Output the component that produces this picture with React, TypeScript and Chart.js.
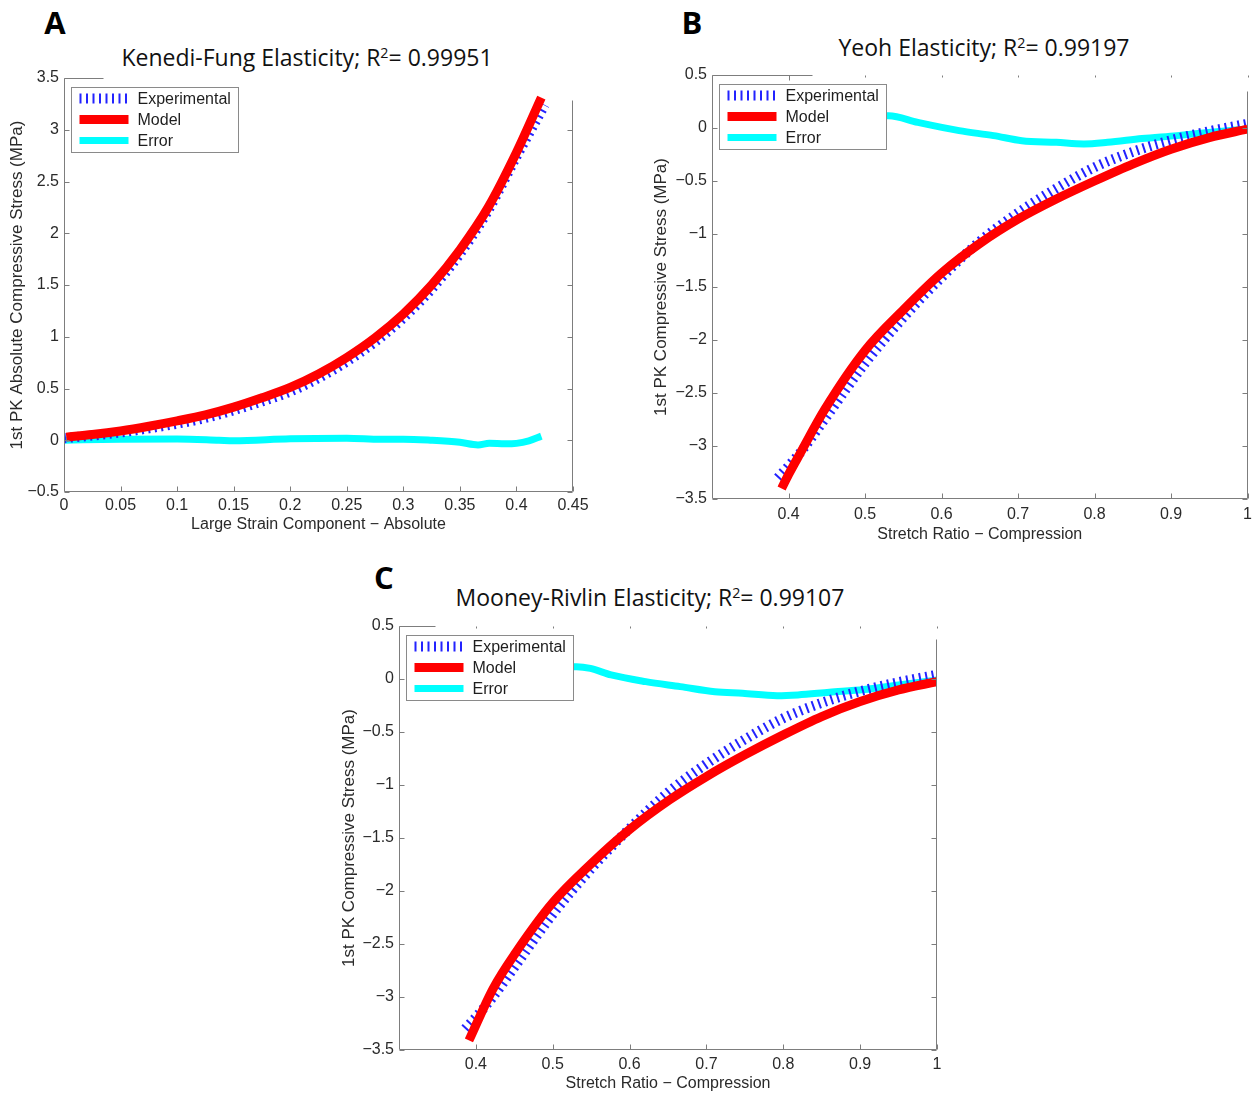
import React, { useEffect, useRef } from 'react';
import { Chart, registerables } from 'chart.js';

Chart.register(...registerables);

// ---------- tick labels ----------
const A_X_TICKS = [0, 0.05, 0.1, 0.15, 0.2, 0.25, 0.3, 0.35, 0.4, 0.45];
const A_Y_TICKS = [-0.5, 0, 0.5, 1, 1.5, 2, 2.5, 3, 3.5];
const BC_X_TICKS = [0.4, 0.5, 0.6, 0.7, 0.8, 0.9, 1];
const BC_Y_TICKS = [-3.5, -3, -2.5, -2, -1.5, -1, -0.5, 0, 0.5];
const SERIES_NAMES = ['Experimental', 'Model', 'Error'];

// ---------- Panel A: Kenedi-Fung ----------
const A_EXP_X = [0.0, 0.025, 0.05, 0.075, 0.1, 0.125, 0.15, 0.175, 0.2, 0.225, 0.25, 0.275, 0.3, 0.325, 0.35, 0.375, 0.4, 0.425];
const A_EXP_Y = [0.02, 0.045, 0.075, 0.115, 0.16, 0.215, 0.29, 0.375, 0.47, 0.6, 0.76, 0.95, 1.18, 1.46, 1.8, 2.22, 2.74, 3.24];
const A_MODEL_X = [0.002, 0.025, 0.05, 0.075, 0.1, 0.125, 0.15, 0.175, 0.2, 0.225, 0.25, 0.275, 0.3, 0.325, 0.35, 0.375, 0.4, 0.422];
const A_MODEL_Y = [0.03, 0.055, 0.09, 0.135, 0.187, 0.245, 0.32, 0.41, 0.51, 0.64, 0.8, 0.99, 1.22, 1.5, 1.84, 2.25, 2.78, 3.31];
const A_ERR_X = [0.0, 0.05, 0.1, 0.137, 0.15, 0.2, 0.25, 0.28, 0.3, 0.324, 0.35, 0.366, 0.376, 0.39, 0.4, 0.411, 0.422];
const A_ERR_Y = [0.0, 0.01, 0.012, 0.0, -0.005, 0.015, 0.02, 0.01, 0.01, 0.0, -0.02, -0.045, -0.03, -0.035, -0.03, -0.005, 0.04];

// ---------- Experimental compression data (B and C) ----------
const EXP_X = [0.386, 0.4, 0.42, 0.45, 0.5, 0.55, 0.6, 0.65, 0.7, 0.75, 0.8, 0.85, 0.9, 0.95, 1.0];
const EXP_Y = [-3.3, -3.19, -3.02, -2.72, -2.22, -1.79, -1.41, -1.07, -0.8, -0.57, -0.37, -0.225, -0.115, -0.03, 0.04];

// ---------- Panel B: Yeoh ----------
const B_MODEL_X = [0.391, 0.4, 0.416, 0.447, 0.5, 0.551, 0.6, 0.65, 0.7, 0.75, 0.8, 0.85, 0.9, 0.95, 1.0];
const B_MODEL_Y = [-3.4, -3.27, -3.06, -2.66, -2.1, -1.71, -1.37, -1.09, -0.86, -0.67, -0.5, -0.34, -0.2, -0.09, -0.01];
const B_ERR_X = [0.525, 0.531, 0.569, 0.623, 0.668, 0.705, 0.75, 0.786, 0.817, 0.862, 0.908, 0.953, 1.0];
const B_ERR_Y = [0.116, 0.116, 0.053, -0.025, -0.072, -0.12, -0.135, -0.15, -0.135, -0.1, -0.072, -0.04, -0.01];

// ---------- Panel C: Mooney-Rivlin ----------
const C_MODEL_X = [0.391, 0.4225, 0.452, 0.5, 0.549, 0.6, 0.652, 0.7, 0.75, 0.8, 0.85, 0.9, 0.95, 1.0];
const C_MODEL_Y = [-3.41, -2.92, -2.58, -2.11, -1.75, -1.42, -1.14, -0.92, -0.715, -0.527, -0.354, -0.213, -0.103, -0.025];
const C_ERR_X = [0.525, 0.531, 0.549, 0.576, 0.621, 0.666, 0.711, 0.747, 0.792, 0.819, 0.86, 0.905, 0.95, 1.0];
const C_ERR_Y = [0.116, 0.116, 0.1, 0.038, -0.025, -0.072, -0.12, -0.135, -0.157, -0.15, -0.125, -0.1, -0.056, -0.01];

const AXIS_FONT = "'Liberation Sans', Arial, Helvetica, sans-serif";
const FRAME_COLOR = '#7d7d7d';
const TEXT_COLOR = '#2a2a2a';

const pts = (xs: number[], ys: number[]) => xs.map((x, i) => ({ x, y: ys[i] }));
const fmt = (v: number) => String(Math.round(v * 100) / 100).replace('-', '\u2212');

const framePlugin = {
  id: 'matlabFrame',
  afterDraw(chart: any) {
    const o = chart.options.plugins.matlabFrame;
    const { ctx, chartArea } = chart;
    const { left, right, top, bottom } = chartArea;
    const xs = chart.scales.x;
    const ys = chart.scales.y;
    const L = Math.round(left) + 0.5;
    const R = Math.round(right) - 0.5;
    const T = Math.round(top) + 0.5;
    const B = Math.round(bottom) - 0.5;
    ctx.save();
    ctx.strokeStyle = FRAME_COLOR;
    ctx.lineWidth = 1;
    ctx.setLineDash([]);
    ctx.beginPath();
    ctx.moveTo(L, T);
    ctx.lineTo(L, B);
    ctx.lineTo(R, B);
    ctx.lineTo(R, T + o.rightStart);
    ctx.moveTo(L, T);
    ctx.lineTo(L + o.topLen, T);
    xs.ticks.forEach((t: any) => {
      const px = Math.round(xs.getPixelForValue(t.value)) + 0.5;
      ctx.moveTo(px, B);
      ctx.lineTo(px, B - 5);
      if (o.topTicks) {
        ctx.moveTo(px, T);
        ctx.lineTo(px, T + (px < L + o.topLen ? 5 : 2));
      }
    });
    ys.ticks.forEach((t: any) => {
      const py = Math.round(ys.getPixelForValue(t.value)) + 0.5;
      ctx.moveTo(L, py);
      ctx.lineTo(L + 5, py);
      if (py > T + o.rightStart) {
        ctx.moveTo(R, py);
        ctx.lineTo(R - 5, py);
      }
    });
    ctx.stroke();

    // legend (MATLAB style, inside the axes, top-left)
    const bx = Math.round(left) + 7.5;
    const by = Math.round(top) + 9.5;
    ctx.font = `16px ${AXIS_FONT}`;
    const tw = Math.max(...SERIES_NAMES.map((n) => ctx.measureText(n).width));
    const bw = Math.round(66 + tw + 8);
    const bh = 65;
    ctx.fillStyle = '#ffffff';
    ctx.fillRect(bx, by, bw, bh);
    ctx.strokeStyle = '#8a8a8a';
    ctx.strokeRect(bx, by, bw, bh);
    chart.data.datasets.forEach((ds: any, i: number) => {
      const y = by + 11 + i * 21;
      ctx.save();
      ctx.strokeStyle = ds.borderColor;
      ctx.lineWidth = ds.borderWidth;
      ctx.lineCap = 'butt';
      ctx.setLineDash(ds.borderDash || []);
      ctx.beginPath();
      ctx.moveTo(bx + 8, y);
      ctx.lineTo(bx + 57, y);
      ctx.stroke();
      ctx.restore();
      ctx.fillStyle = '#1e1e1e';
      ctx.textBaseline = 'middle';
      ctx.textAlign = 'left';
      ctx.fillText(ds.label, bx + 66, y + 1);
    });
    ctx.restore();
  },
};

type PanelCfg = {
  left: number; top: number; width: number; height: number;
  pad: { left: number; right: number; top: number; bottom: number };
  yWidth: number; xHeight: number;
  xMin: number; xMax: number; yMin: number; yMax: number;
  xTicks: number[]; yTicks: number[];
  xTitle: string; yTitle: string;
  xTickPad: number; xTitlePad: number; yTitlePad: number;
  exp: { x: number; y: number }[];
  model: { x: number; y: number }[];
  err: { x: number; y: number }[];
  frame: { topLen: number; rightStart: number; topTicks: boolean };
};

function Panel({ cfg }: { cfg: PanelCfg }) {
  const ref = useRef<HTMLCanvasElement | null>(null);
  useEffect(() => {
    if (!ref.current) return;
    const chart = new Chart(ref.current, {
      type: 'line',
      data: {
        datasets: [
          {
            label: SERIES_NAMES[0], data: cfg.exp, borderColor: '#2323ff', borderWidth: 10,
            borderDash: [2, 4.5], borderCapStyle: 'butt', pointRadius: 0, cubicInterpolationMode: 'monotone', order: 2,
          },
          {
            label: SERIES_NAMES[1], data: cfg.model, borderColor: '#ff0000', borderWidth: 9,
            borderCapStyle: 'butt', pointRadius: 0, cubicInterpolationMode: 'monotone', order: 1,
          },
          {
            label: SERIES_NAMES[2], data: cfg.err, borderColor: '#00ffff', borderWidth: 7,
            borderCapStyle: 'butt', pointRadius: 0, cubicInterpolationMode: 'monotone', order: 3,
          },
        ],
      } as any,
      options: {
        responsive: false,
        animation: false,
        events: [],
        layout: { padding: cfg.pad },
        plugins: {
          legend: { display: false },
          tooltip: { enabled: false },
          matlabFrame: cfg.frame,
        } as any,
        scales: {
          x: {
            type: 'linear', min: cfg.xMin, max: cfg.xMax,
            afterBuildTicks: (s: any) => { s.ticks = cfg.xTicks.map((v) => ({ value: v })); },
            afterFit: (s: any) => { s.height = cfg.xHeight; },
            grid: { display: false, drawTicks: false },
            border: { display: false },
            ticks: {
              autoSkip: false, maxRotation: 0, padding: cfg.xTickPad, color: TEXT_COLOR,
              font: { family: AXIS_FONT, size: 16 }, callback: (v: any) => fmt(Number(v)),
            },
            title: {
              display: true, text: cfg.xTitle, color: TEXT_COLOR,
              font: { family: AXIS_FONT, size: 16 }, padding: { top: 0, bottom: cfg.xTitlePad },
            },
          },
          y: {
            type: 'linear', min: cfg.yMin, max: cfg.yMax,
            afterBuildTicks: (s: any) => { s.ticks = cfg.yTicks.map((v) => ({ value: v })); },
            afterFit: (s: any) => { s.width = cfg.yWidth; },
            grid: { display: false, drawTicks: false },
            border: { display: false },
            ticks: {
              autoSkip: false, padding: 5, color: TEXT_COLOR,
              font: { family: AXIS_FONT, size: 16 }, callback: (v: any) => fmt(Number(v)),
            },
            title: {
              display: true, text: cfg.yTitle, color: TEXT_COLOR,
              font: { family: AXIS_FONT, size: 17 }, padding: { top: cfg.yTitlePad, bottom: 0 },
            },
          },
        },
      } as any,
      plugins: [framePlugin as any],
    });
    return () => chart.destroy();
  }, []);
  return (
    <canvas
      ref={ref}
      width={cfg.width}
      height={cfg.height}
      style={{ position: 'absolute', left: cfg.left, top: cfg.top, width: cfg.width, height: cfg.height }}
    />
  );
}

const PANEL_A: PanelCfg = {
  left: 0, top: 60, width: 600, height: 480,
  pad: { left: 0, right: 27, top: 18, bottom: 0 },
  yWidth: 64, xHeight: 48,
  xMin: 0, xMax: 0.45, yMin: -0.5, yMax: 3.5,
  xTicks: A_X_TICKS, yTicks: A_Y_TICKS,
  xTitle: 'Large Strain Component \u2212 Absolute',
  yTitle: '1st PK Absolute Compressive Stress (MPa)',
  xTickPad: 4, xTitlePad: 6, yTitlePad: 7,
  exp: pts(A_EXP_X, A_EXP_Y), model: pts(A_MODEL_X, A_MODEL_Y), err: pts(A_ERR_X, A_ERR_Y),
  frame: { topLen: 39, rightStart: 22, topTicks: false },
};

const PANEL_B: PanelCfg = {
  left: 640, top: 60, width: 618, height: 490,
  pad: { left: 0, right: 8, top: 15, bottom: 0 },
  yWidth: 72, xHeight: 51,
  xMin: 0.3, xMax: 1, yMin: -3.5, yMax: 0.5,
  xTicks: BC_X_TICKS, yTicks: BC_Y_TICKS,
  xTitle: 'Stretch Ratio \u2212 Compression',
  yTitle: '1st PK Compressive Stress (MPa)',
  xTickPad: 6, xTitlePad: 6, yTitlePad: 11,
  exp: pts(EXP_X, EXP_Y), model: pts(B_MODEL_X, B_MODEL_Y), err: pts(B_ERR_X, B_ERR_Y),
  frame: { topLen: 100, rightStart: 16, topTicks: true },
};

const PANEL_C: PanelCfg = {
  left: 330, top: 610, width: 620, height: 483,
  pad: { left: 0, right: 13, top: 16, bottom: 0 },
  yWidth: 69, xHeight: 43,
  xMin: 0.3, xMax: 1, yMin: -3.5, yMax: 0.5,
  xTicks: BC_X_TICKS, yTicks: BC_Y_TICKS,
  xTitle: 'Stretch Ratio \u2212 Compression',
  yTitle: '1st PK Compressive Stress (MPa)',
  xTickPad: 5, xTitlePad: 0, yTitlePad: 9,
  exp: pts(EXP_X, EXP_Y), model: pts(C_MODEL_X, C_MODEL_Y), err: pts(C_ERR_X, C_ERR_Y),
  frame: { topLen: 36, rightStart: 13, topTicks: true },
};

const TITLE_FONT = "'Open Sans', 'Noto Sans', sans-serif";

function Title({ cx, cy, name, r2 }: { cx: number; cy: number; name: string; r2: string }) {
  return (
    <div
      style={{
        position: 'absolute', left: cx, top: cy, transform: 'translate(-50%, -50%)',
        fontFamily: TITLE_FONT, fontSize: 23, lineHeight: 1, whiteSpace: 'nowrap', color: '#111',
      }}
    >
      {name}; R<sup style={{ fontSize: '0.62em', verticalAlign: '0.55em', lineHeight: 0 }}>2</sup>= {r2}
    </div>
  );
}

function Letter({ x, y, text }: { x: number; y: number; text: string }) {
  return (
    <div
      style={{
        position: 'absolute', left: x, top: y, transform: 'translate(-50%, -50%)',
        fontFamily: TITLE_FONT, fontWeight: 700, fontSize: 31, lineHeight: 1, color: '#000',
      }}
    >
      {text}
    </div>
  );
}

export default function App() {
  return (
    <div style={{ position: 'absolute', left: 0, top: 0, width: 1258, height: 1093, background: '#fff', overflow: 'hidden' }}>
      <Letter x={55} y={22} text="A" />
      <Letter x={692} y={22} text="B" />
      <Letter x={384} y={577} text="C" />
      <Title cx={307} cy={57} name="Kenedi-Fung Elasticity" r2="0.99951" />
      <Title cx={984} cy={47} name="Yeoh Elasticity" r2="0.99197" />
      <Title cx={650} cy={597} name="Mooney-Rivlin Elasticity" r2="0.99107" />
      <Panel cfg={PANEL_A} />
      <Panel cfg={PANEL_B} />
      <Panel cfg={PANEL_C} />
    </div>
  );
}
